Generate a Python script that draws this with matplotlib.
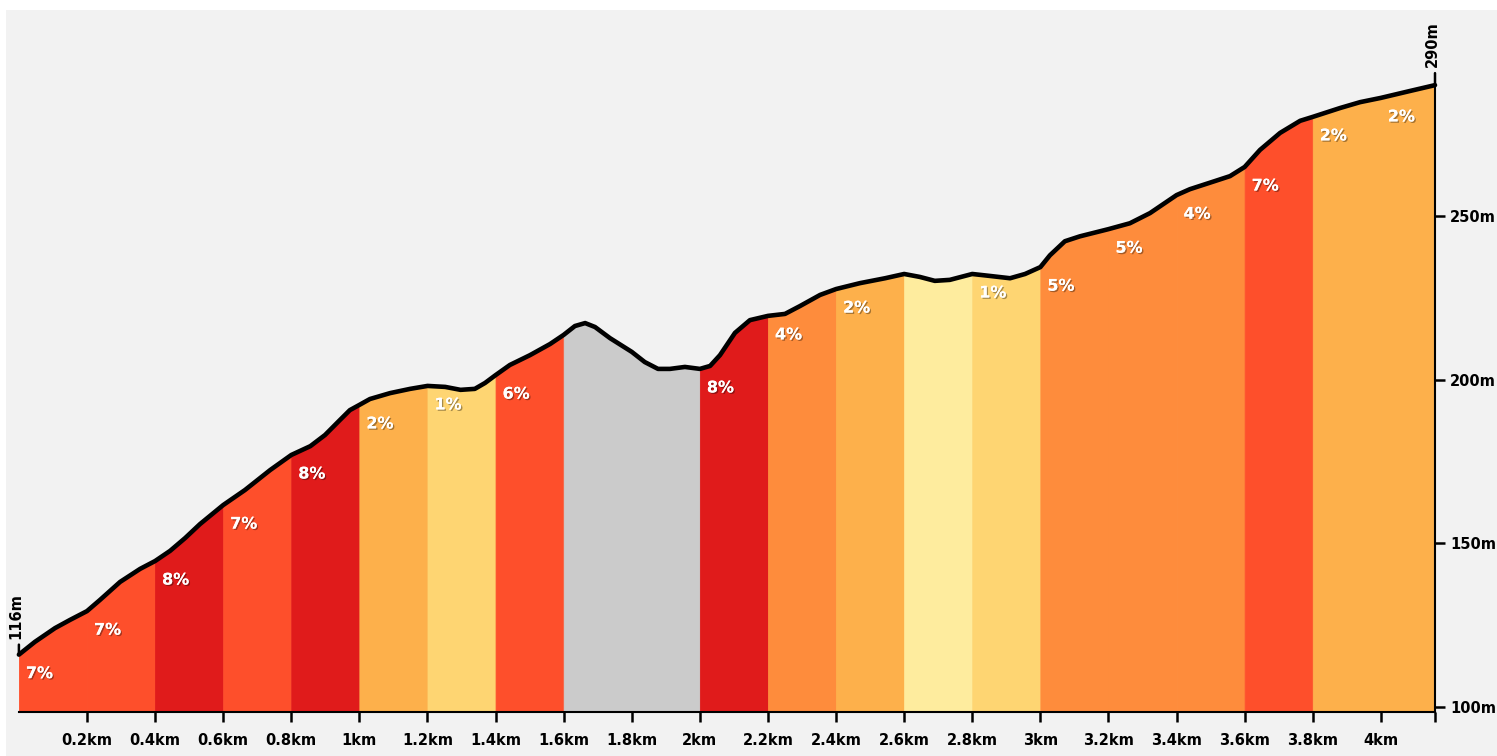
import matplotlib
matplotlib.use("Agg")
import matplotlib.pyplot as plt
import matplotlib.patheffects as pe
from matplotlib.patches import Rectangle
import numpy as np

# ---- data (elevation profile) ----
dist_km = [0.000, 0.047, 0.106, 0.150, 0.200, 0.238, 0.297, 0.356, 0.400, 0.444, 0.488, 0.532,
           0.600, 0.664, 0.738, 0.800, 0.856, 0.899, 0.943, 0.972, 1.000, 1.031, 1.090, 1.149,
           1.200, 1.252, 1.297, 1.339, 1.369, 1.400, 1.442, 1.501, 1.560, 1.600, 1.633, 1.663,
           1.692, 1.736, 1.800, 1.838, 1.877, 1.912, 1.956, 2.000, 2.030, 2.059, 2.103, 2.147,
           2.200, 2.250, 2.294, 2.353, 2.400, 2.470, 2.544, 2.600, 2.646, 2.690, 2.734, 2.800,
           2.852, 2.911, 2.955, 3.000, 3.028, 3.072, 3.116, 3.200, 3.263, 3.322, 3.400, 3.439,
           3.513, 3.557, 3.600, 3.645, 3.704, 3.763, 3.800, 3.880, 3.939, 4.000, 4.085, 4.159]
elev_m = [116.0, 119.9, 124.1, 126.6, 129.3, 132.7, 138.2, 142.2, 144.6, 147.7, 151.6, 155.9,
          161.7, 166.3, 172.4, 177.0, 179.7, 183.1, 187.7, 190.7, 192.3, 194.1, 195.9, 197.2,
          198.1, 197.8, 196.9, 197.2, 199.0, 201.4, 204.5, 207.5, 210.9, 213.7, 216.4, 217.3,
          216.1, 212.7, 208.5, 205.4, 203.3, 203.3, 203.9, 203.3, 204.2, 207.5, 214.3, 218.2,
          219.5, 220.1, 222.5, 225.9, 227.7, 229.5, 231.0, 232.3, 231.4, 230.2, 230.5, 232.3,
          231.7, 231.0, 232.3, 234.4, 238.0, 242.3, 243.8, 246.0, 247.8, 250.9, 256.4, 258.2,
          260.7, 262.2, 265.0, 270.2, 275.4, 279.1, 280.3, 283.0, 284.8, 286.1, 288.2, 290.0]

seg_edges = [0.0, 0.2, 0.4, 0.6, 0.8, 1.0, 1.2, 1.4, 1.6, 1.8, 2.0, 2.2, 2.4, 2.6, 2.8,
             3.0, 3.2, 3.4, 3.6, 3.8, 4.0, 4.159]
seg_grade = [7, 7, 8, 7, 8, 2, 1, 6, None, None, 8, 4, 2, 0, 1, 5, 5, 4, 7, 2, 2]

grade_colors = {0: "#FEEC9E", 1: "#FED572", 2: "#FDB04B", 4: "#FE8C3C", 5: "#FE8C3C",
                6: "#FE4F2B", 7: "#FE4F2B", 8: "#E01B1B", None: "#CBCBCB"}

xtick_vals = [0.2, 0.4, 0.6, 0.8, 1.0, 1.2, 1.4, 1.6, 1.8, 2.0, 2.2, 2.4, 2.6, 2.8,
              3.0, 3.2, 3.4, 3.6, 3.8, 4.0]
xtick_labels = ["0.2km", "0.4km", "0.6km", "0.8km", "1km", "1.2km", "1.4km", "1.6km",
                "1.8km", "2km", "2.2km", "2.4km", "2.6km", "2.8km", "3km", "3.2km",
                "3.4km", "3.6km", "3.8km", "4km"]
ytick_vals = [100, 150, 200, 250]
ytick_labels = ["100m", "150m", "200m", "250m"]

# ---- figure ----
W, H = 1497, 756
fig = plt.figure(figsize=(W / 100, H / 100), dpi=100, facecolor="white")
bg = Rectangle((6 / W, 0), 1 - 6 / W, 1 - 10 / H, transform=fig.transFigure,
               facecolor="#F2F2F2", edgecolor="none", zorder=-10)
fig.add_artist(bg)

left_px, right_px, bot_px, top_px = 18.9, 1435, 712, 40
ax = fig.add_axes([left_px / W, 1 - bot_px / H, (right_px - left_px) / W, (bot_px - top_px) / H])
ax.set_facecolor("none")
ax.set_zorder(1)
ymin = 100 - 5 / 3.273
ax.set_xlim(0, dist_km[-1])
ax.set_ylim(ymin, 100 + (707 - top_px) / 3.273)

x = np.array(dist_km)
y = np.array(elev_m)

for i, g in enumerate(seg_grade):
    a, b = seg_edges[i], seg_edges[i + 1]
    m = (x >= a - 1e-6) & (x <= b + 1e-6)
    ax.fill_between(x[m], ymin, y[m], color=grade_colors[g], lw=0.6,
                    edgecolor=grade_colors[g], zorder=1)

ax.plot(x, y, color="black", lw=3.3, solid_capstyle="round", solid_joinstyle="round",
        zorder=3, clip_on=False)

shadow = [pe.withSimplePatchShadow(offset=(1, -1), shadow_rgbFace="black", alpha=0.35),
          pe.Normal()]
for i, g in enumerate(seg_grade):
    if g is None or g == 0:
        continue
    a = seg_edges[i]
    ya = np.interp(a, x, y)
    ax.annotate(f"{g}%", xy=(a, ya), xytext=(7, -19), textcoords="offset pixels",
                ha="left", va="center", color="white", fontsize=11.5, fontweight="bold",
                path_effects=shadow, zorder=4)

# axes styling
for s in ["top", "left"]:
    ax.spines[s].set_visible(False)
ax.spines["bottom"].set_linewidth(1.5)
ax.spines["right"].set_linewidth(1.5)
ax.spines["right"].set_bounds(ymin, elev_m[-1])

ax.set_xticks(xtick_vals + [dist_km[-1]])
ax.set_xticklabels(xtick_labels + [""])
ax.yaxis.tick_right()
ax.set_yticks(ytick_vals)
ax.set_yticklabels(ytick_labels)
ax.tick_params(axis="x", length=7, width=1.8, pad=8, labelsize=10.5)
ax.tick_params(axis="y", length=7, width=1.8, pad=4, labelsize=10.5)
for lab in ax.get_xticklabels() + ax.get_yticklabels():
    lab.set_fontweight("bold")

# start / end markers
ax.annotate("", xy=(0, elev_m[0]), xytext=(0, 10), textcoords="offset pixels",
            arrowprops=dict(arrowstyle="-", lw=1.8, color="black", shrinkA=0, shrinkB=0))
ax.annotate(f"{elev_m[0]:.0f}m", xy=(0, elev_m[0]), xytext=(-3, 16), textcoords="offset pixels",
            rotation=90, ha="center", va="bottom", fontsize=10.5, fontweight="bold")
ax.annotate("", xy=(dist_km[-1], elev_m[-1]), xytext=(0, 12), textcoords="offset pixels",
            arrowprops=dict(arrowstyle="-", lw=1.8, color="black", shrinkA=0, shrinkB=0))
ax.annotate(f"{elev_m[-1]:.0f}m", xy=(dist_km[-1], elev_m[-1]), xytext=(-3, 18),
            textcoords="offset pixels", rotation=90, ha="center", va="bottom",
            fontsize=10.5, fontweight="bold")

fig.savefig("out.png", dpi=100, facecolor="white")
